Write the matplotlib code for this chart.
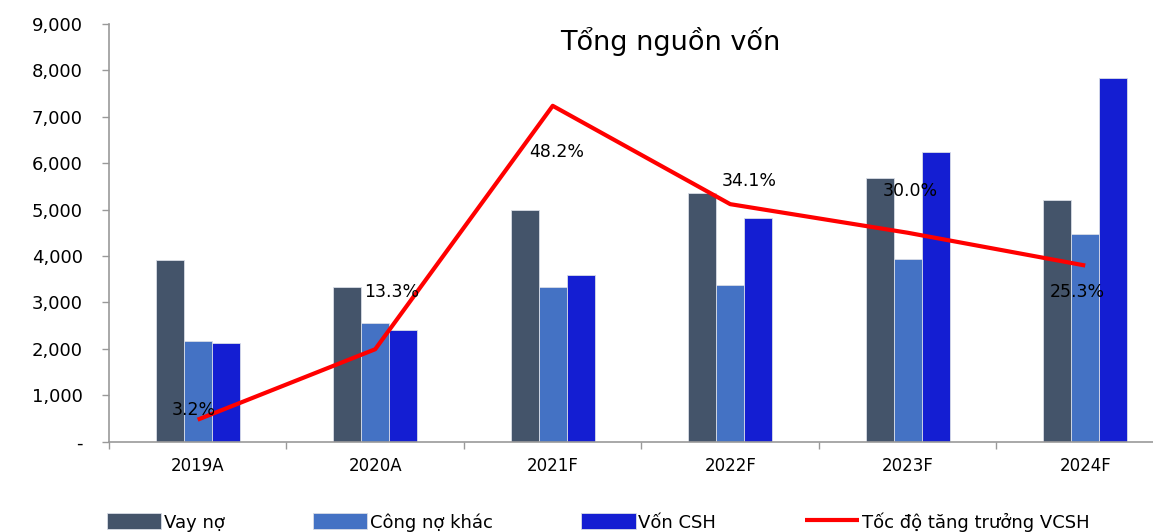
import matplotlib
matplotlib.use("Agg")
import matplotlib.pyplot as plt
import numpy as np
from matplotlib.ticker import FuncFormatter

# Data
years = ["2019A", "2020A", "2021F", "2022F", "2023F", "2024F"]
vay_no = [3915, 3340, 4990, 5355, 5685, 5210]
cong_no_khac = [2165, 2550, 3340, 3375, 3935, 4480]
von_csh = [2125, 2415, 3585, 4815, 6245, 7830]
tang_truong = [0.032, 0.133, 0.482, 0.341, 0.300, 0.253]
labels_pct = ["3.2%", "13.3%", "48.2%", "34.1%", "30.0%", "25.3%"]
# label offsets (points) relative to each line point
label_offsets = [(-3, 7), (12, 41), (3, -33), (14, 17), (2, 30), (-6, -19)]

c_dark = "#44546A"
c_light = "#4472C4"
c_blue = "#141ED2"
c_red = "#FF0000"

fig = plt.figure(figsize=(11.53, 5.32), dpi=100)
ax = fig.add_axes([0.0945, 0.1692, 0.9237, 0.7866])

x = np.arange(len(years))
w = 0.158
ax.bar(x - w, vay_no, w, color=c_dark, edgecolor="#d9dde6", linewidth=0.6, label="Vay nợ")
ax.bar(x, cong_no_khac, w, color=c_light, edgecolor="#d9dde6", linewidth=0.6, label="Công nợ khác")
ax.bar(x + w, von_csh, w, color=c_blue, edgecolor="#d9dde6", linewidth=0.6, label="Vốn CSH")

ax.set_xlim(-0.5, len(years) - 0.5)
ax.set_ylim(0, 9000)
ax.set_yticks(np.arange(0, 9001, 1000))
ax.yaxis.set_major_formatter(FuncFormatter(lambda v, p: "-" if v == 0 else f"{int(v):,}"))
ax.tick_params(axis="y", direction="out", length=5, width=1, color="#999999",
               labelsize=13, pad=14)

ax.set_xticks(x)
ax.set_xticklabels(years)
ax.set_xticks(np.arange(-0.5, len(years), 1.0), minor=True)
ax.tick_params(axis="x", which="major", length=0, labelsize=12, pad=11)
ax.tick_params(axis="x", which="minor", direction="out", length=5, width=1, color="#999999")

for s in ["top", "right"]:
    ax.spines[s].set_visible(False)
for s in ["left", "bottom"]:
    ax.spines[s].set_color("#999999")
    ax.spines[s].set_linewidth(1.2)

# growth line on a hidden secondary axis
ax2 = ax.twinx()
ax2.set_ylim(0, 0.6)
ax2.axis("off")
line, = ax2.plot(x, tang_truong, color=c_red, linewidth=3, label="Tốc độ tăng trưởng VCSH",
                 solid_capstyle="butt")
for xi, yi, lab, off in zip(x, tang_truong, labels_pct, label_offsets):
    ax2.annotate(lab, (xi, yi), xytext=off, textcoords="offset points",
                 ha="center", va="center", fontsize=12.5, color="black")

fig.text(670 / 1153, 1 - 42 / 532, "Tổng nguồn vốn", ha="center", va="center", fontsize=19.5)

handles = ax.get_legend_handles_labels()[0] + [line]
names = ["Vay nợ", "Công nợ khác", "Vốn CSH", "Tốc độ tăng trưởng VCSH"]
fig.legend(handles, names, loc="upper left", bbox_to_anchor=(107 / 1153, 1 - 512 / 532),
           ncol=4, frameon=False, fontsize=13, handlelength=3.0, handleheight=1.0,
           handletextpad=0.15, columnspacing=4.9, borderaxespad=0, borderpad=0)

fig.savefig("out.png", dpi=100)
